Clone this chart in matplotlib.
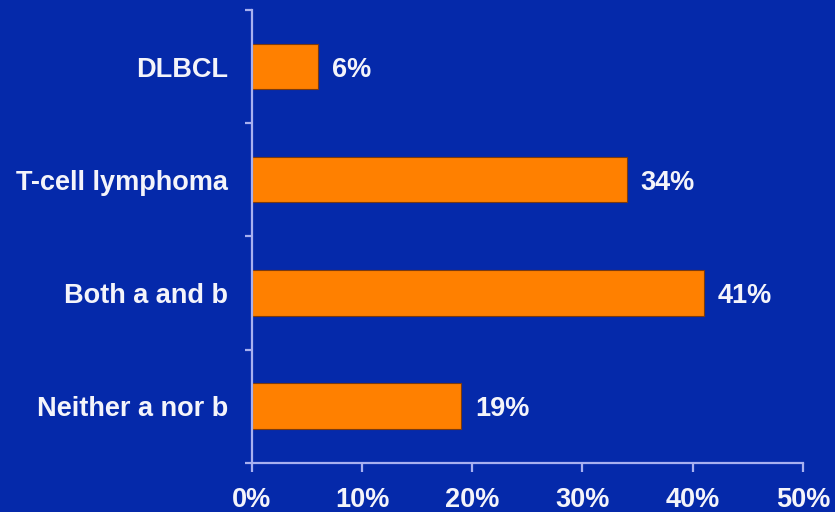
import matplotlib.pyplot as plt

# survey responses, top to bottom
categories = ["DLBCL", "T-cell lymphoma", "Both a and b", "Neither a nor b"]
values = [6, 34, 41, 19]
x_ticks = [0, 10, 20, 30, 40, 50]

bg = "#0529aa"
bar_color = "#ff8000"
axis_color = "#a8b0f0"
text_color = "#f4f4fa"

plt.rcParams["font.family"] = ["Liberation Sans", "DejaVu Sans"]
plt.rcParams["font.weight"] = "bold"

fig = plt.figure(figsize=(8.35, 5.12), dpi=100, facecolor=bg)
ax = fig.add_axes([0.3014, 0.0963, 0.6603, 0.8842], facecolor=bg)

pos = list(range(len(categories)))
bars = ax.barh(pos, values, height=0.4, color=bar_color,
               edgecolor="#7a3a10", linewidth=0.8)

for y, v in zip(pos, values):
    ax.text(v + 1.25, y, f"{v}%", va="center_baseline", ha="left",
            color=text_color, fontsize=19.5, fontweight="bold")

ax.set_xlim(0, 50)
ax.set_ylim(len(categories) - 0.5, -0.5)

ax.set_xticks(x_ticks)
ax.set_xticklabels([f"{t}%" for t in x_ticks], fontsize=19.5,
                   fontweight="bold", color=text_color)
ax.set_yticks(pos)
ax.set_yticklabels(categories, fontsize=19.5, fontweight="bold", color=text_color)
ax.set_yticks([p - 0.5 for p in pos] + [len(categories) - 0.5], minor=True)

ax.tick_params(axis="x", which="major", length=6.5, width=1.6,
               color=axis_color, pad=11)
ax.tick_params(axis="y", which="major", length=0, pad=17)
ax.tick_params(axis="y", which="minor", length=5, width=1.6, color=axis_color)

for side in ["top", "right"]:
    ax.spines[side].set_visible(False)
for side in ["left", "bottom"]:
    ax.spines[side].set_color(axis_color)
    ax.spines[side].set_linewidth(1.6)

fig.savefig("out.png", dpi=100, facecolor=bg)
